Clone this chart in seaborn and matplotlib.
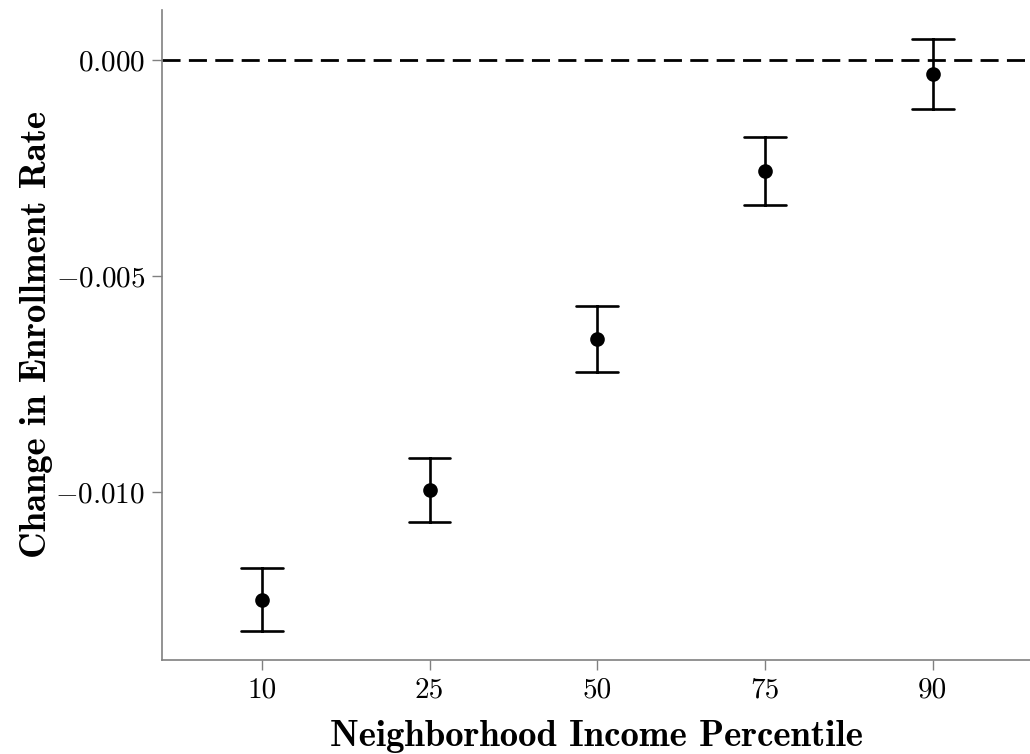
import pandas as pd
import matplotlib
matplotlib.use('Agg')
import matplotlib.pyplot as plt
import matplotlib.ticker as mticker
import seaborn as sns

# estimates and 95% CI
percentiles = ['10', '25', '50', '75', '90']
estimate = [-0.01250, -0.00995, -0.00646, -0.00257, -0.00032]
ci_low = [-0.01323, -0.01070, -0.00723, -0.00336, -0.00113]
ci_high = [-0.01177, -0.00921, -0.00569, -0.00178, 0.00049]

# long table: median of (low, est, high) is the estimate, min/max the CI
rows = []
for p, lo, est, hi in zip(percentiles, ci_low, estimate, ci_high):
    for v in (lo, est, hi):
        rows.append({'pct': p, 'change': v})
df = pd.DataFrame(rows)

sns.set_style('ticks')
plt.rcParams['font.family'] = ['cmr10', 'DejaVu Serif']
plt.rcParams['mathtext.fontset'] = 'cm'
plt.rcParams['axes.unicode_minus'] = False

fig = plt.figure(figsize=(10.3, 7.54), dpi=100)
ax = fig.add_axes([162 / 1030, 94 / 754, 868 / 1030, 650 / 754])

ax.axhline(0, color='black', lw=2.0, dashes=(6.5, 3), zorder=1)

sns.pointplot(data=df, x='pct', y='change', order=percentiles,
              estimator='median', errorbar=lambda v: (v.min(), v.max()),
              linestyle='none', color='black', marker='o', markersize=8.5,
              capsize=0.25, err_kws={'linewidth': 1.9}, ax=ax)

ax.set_xlim(-0.595, 4.58)
ax.set_ylim(-0.01389, 0.00116)
ax.set_yticks([-0.010, -0.005, 0.0])
ax.yaxis.set_major_formatter(mticker.StrMethodFormatter('${x:.3f}$'))

ax.set_xlabel('Neighborhood Income Percentile', family='cmb10', fontsize=26.5,
              labelpad=12, color='black')
ax.set_ylabel('Change in Enrollment Rate', family='cmb10', fontsize=26.5,
              labelpad=2, color='black')

ax.tick_params(axis='both', labelsize=21, color='#808080', labelcolor='black',
               length=7, width=1, pad=5)
sns.despine(ax=ax)
for s in ('left', 'bottom'):
    ax.spines[s].set_color('#808080')
    ax.spines[s].set_linewidth(1.2)

fig.savefig('out.png', dpi=100)
